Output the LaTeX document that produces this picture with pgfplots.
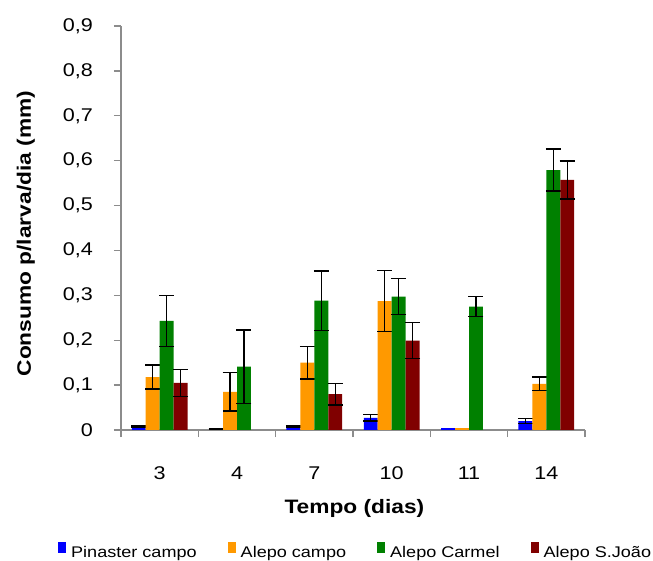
\documentclass[border=0pt]{standalone}
\usepackage{pgfplots}
\pgfplotsset{compat=1.18}
\usepackage{fontspec}
\setmainfont{Liberation Sans}[FakeStretch=1.17]

\definecolor{pinaster}{RGB}{0,0,255}
\definecolor{alepocampo}{RGB}{255,153,0}
\definecolor{carmel}{RGB}{0,128,0}
\definecolor{sjoao}{RGB}{128,0,0}
\definecolor{axisgray}{RGB}{140,140,140}

\begin{document}
\begin{tikzpicture}
\begin{axis}[
  at={(121bp,131bp)}, anchor=south west,
  scale only axis, width=464bp, height=404bp,
  xmin=-0.5, xmax=5.5, ymin=0, ymax=0.9,
  ybar, bar width=0.18,
  axis x line*=bottom, axis y line*=left,
  axis line style={axisgray, line width=1.3bp},
  tick style={axisgray, line width=1.3bp},
  tick align=outside,
  xtick={0,1,2,3,4,5}, xticklabels={3,4,7,10,11,14},
  major x tick style={draw=none},
  minor xtick={-0.5,0.5,1.5,2.5,3.5,4.5,5.5},
  ytick={0,0.1,0.2,0.3,0.4,0.5,0.6,0.7,0.8,0.9},
  major tick length=7bp, minor tick length=7bp,
  /pgf/number format/assume math mode=true,
  ticklabel style={font=\fontsize{18.5}{20}\selectfont, text=black},
  xticklabel style={anchor=base, yshift=-42bp},
  yticklabel style={/pgf/number format/fixed, /pgf/number format/precision=1,
    /pgf/number format/use comma,
    anchor=east, inner xsep=0pt, xshift=-21bp},
  xlabel={Tempo (dias)},
  xlabel style={at={(axis description cs:0.503,-0.195)}, anchor=center,
    font=\bfseries\fontsize{19.5}{22}\selectfont},
  ylabel={Consumo p/larva/dia (mm)},
  ylabel style={at={(axis description cs:-0.205,0.486)}, anchor=center,
    font=\bfseries\fontsize{19.5}{22}\selectfont},
  legend columns=4,
  legend style={at={(axis description cs:-0.1358,-0.2988)}, anchor=west,
    draw=none, fill=none, inner sep=0pt,
    font=\fontsize{15.5}{17}\selectfont,
    nodes={inner sep=0pt},
    /tikz/every odd column/.append style={column sep=5bp},
    /tikz/every even column/.append style={column sep=31bp}},
  legend image code/.code={\fill[#1] (0bp,-0.5bp) rectangle (8bp,10.5bp);},
  every axis plot/.append style={draw=none,
    error bars/y dir=both, error bars/y explicit,
    error bars/error bar style={black, line width=1.4bp},
    error bars/error mark options={black, rotate=90, mark size=7.5bp, line width=1.4bp}},
]
% Pinaster campo
\addplot[fill=pinaster, bar shift=-0.27] coordinates {
  (0,0.007) +- (0,0.002)
  (1,0.003) +- (0,0.001)
  (2,0.007) +- (0,0.002)
  (3,0.027) +- (0,0.007)
  (5,0.020) +- (0,0.005)
};
% Alepo campo
\addplot[fill=alepocampo, bar shift=-0.09] coordinates {
  (0,0.118) +- (0,0.027)
  (1,0.085) +- (0,0.043)
  (2,0.150) +- (0,0.036)
  (3,0.287) +- (0,0.068)
  (5,0.103) +- (0,0.015)
};
% Alepo Carmel
\addplot[fill=carmel, bar shift=0.09] coordinates {
  (0,0.243) +- (0,0.057)
  (1,0.141) +- (0,0.082)
  (2,0.288) +- (0,0.066)
  (3,0.297) +- (0,0.040)
  (4,0.275) +- (0,0.022)
  (5,0.579) +- (0,0.047)
};
% Alepo S. Joao
\addplot[fill=sjoao, bar shift=0.27] coordinates {
  (0,0.105) +- (0,0.030)
  (2,0.080) +- (0,0.024)
  (3,0.199) +- (0,0.040)
  (5,0.557) +- (0,0.042)
};
% day 11: trace values without error bars
\addplot[forget plot, fill=pinaster, bar shift=-0.27, error bars/y dir=none]
  coordinates {(4,0.004)};
\addplot[forget plot, fill=alepocampo, bar shift=-0.09, error bars/y dir=none]
  coordinates {(4,0.004)};
\legend{Pinaster campo, Alepo campo, Alepo Carmel, Alepo S.João}
\end{axis}
\pgfresetboundingbox
\path[use as bounding box] (0,0) rectangle (653bp,561bp);
\end{tikzpicture}
\end{document}
